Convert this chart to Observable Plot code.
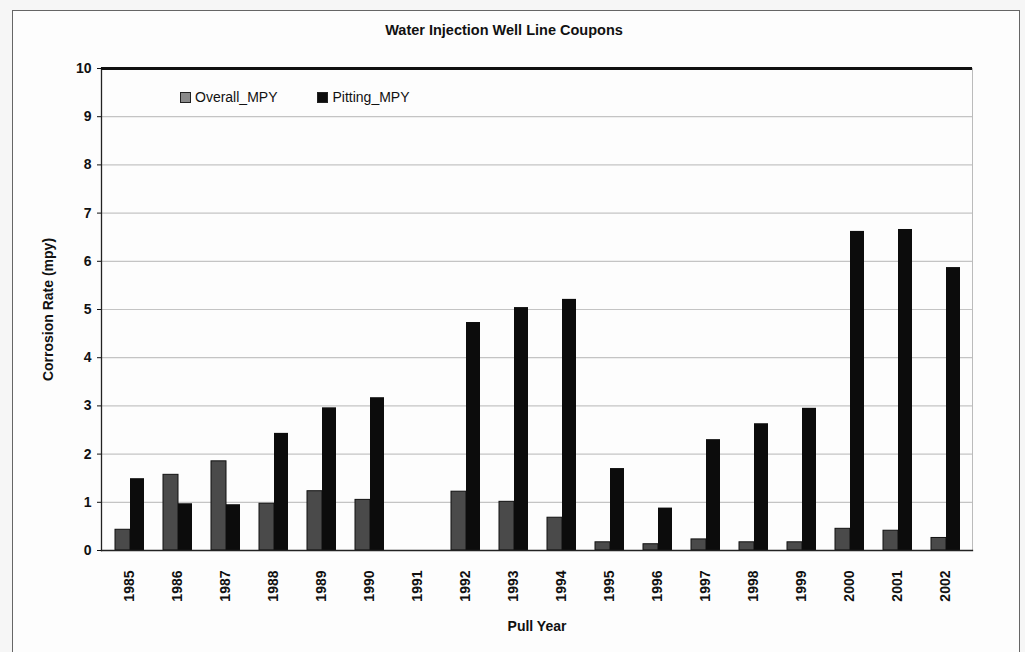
<!DOCTYPE html>
<html>
<head>
<meta charset="utf-8">
<script src="https://cdn.jsdelivr.net/npm/d3@7"></script>
<script src="https://cdn.jsdelivr.net/npm/@observablehq/plot@0.6"></script>
<style>
  html, body { margin: 0; padding: 0; background: #f6f6f6; }
  #wrap { position: relative; width: 1025px; height: 652px; overflow: hidden; font-family: "Liberation Sans", Arial, sans-serif; }
  #frame { position: absolute; left: 12px; top: 10px; width: 1006px; height: 660px; border: 1.5px solid #666; background: #fdfdfd; }
  #title { position: absolute; left: 0; top: 22px; width: 1008px; text-align: center; font-weight: bold; font-size: 14.5px; color: #111; }
  #chart { position: absolute; left: 0; top: 50px; }
  #legend { position: absolute; left: 180px; top: 89px; font-size: 14px; color: #111; display: flex; gap: 40px; }
  #legend span.item { display: inline-flex; align-items: center; gap: 4px; }
  #legend i { display: inline-block; width: 9px; height: 9px; }
</style>
</head>
<body>
<div id="wrap">
  <div id="frame"></div>
  <div id="title">Water Injection Well Line Coupons</div>
  <div id="chart"></div>
  <div id="legend"></div>
</div>
<script>
const years = ["1985","1986","1987","1988","1989","1990","1991","1992","1993","1994","1995","1996","1997","1998","1999","2000","2001","2002"];
const overallMPY = [0.43, 1.57, 1.85, 0.97, 1.23, 1.05, null, 1.22, 1.01, 0.68, 0.17, 0.13, 0.23, 0.17, 0.17, 0.45, 0.41, 0.26];
const pittingMPY = [1.49, 0.97, 0.95, 2.43, 2.96, 3.17, null, 4.73, 5.04, 5.21, 1.70, 0.88, 2.30, 2.63, 2.95, 6.62, 6.66, 5.87];
const seriesNames = ["Overall_MPY", "Pitting_MPY"];
const seriesColors = ["#4a4a4a", "#0c0c0c"];
const yTicks = [0,1,2,3,4,5,6,7,8,9,10];

const overallData = years.map((y, i) => ({year: y, value: overallMPY[i]})).filter(d => d.value != null);
const pittingData = years.map((y, i) => ({year: y, value: pittingMPY[i]})).filter(d => d.value != null);

const font = "'Liberation Sans', Arial, sans-serif";

const chart = Plot.plot({
  width: 1025,
  height: 602,
  marginTop: 18,
  marginBottom: 102,
  marginLeft: 101,
  marginRight: 53,
  style: {fontFamily: font, fontSize: "14px", fontWeight: "bold", background: "transparent", color: "#111"},
  x: {domain: years, padding: 0},
  y: {domain: [0, 10]},
  marks: [
    Plot.ruleY(yTicks.filter(t => t > 0 && t < 10), {stroke: "#c4c4c4", strokeWidth: 1.2}),
    Plot.barY(overallData, {x: "year", y: "value", fill: seriesColors[0], stroke: "#111", strokeWidth: 1, insetLeft: 10, insetRight: 23}),
    Plot.barY(pittingData, {x: "year", y: "value", fill: seriesColors[1], insetLeft: 25, insetRight: 9}),
    Plot.frame({anchor: "right", stroke: "#bbb"}),
    Plot.frame({anchor: "left", stroke: "#222", strokeWidth: 1.3}),
    Plot.frame({anchor: "bottom", stroke: "#222", strokeWidth: 1.3}),
    Plot.ruleY([10], {stroke: "#111", strokeWidth: 3}),
    Plot.axisY({ticks: yTicks, tickSize: 4, tickPadding: 6, label: "Corrosion Rate (mpy)", labelAnchor: "center", labelArrow: "none", labelOffset: 58, fontSize: 14, fontWeight: "bold"}),
    Plot.axisX({tickSize: 0, tickRotate: -90, tickPadding: 20, label: "Pull Year", labelAnchor: "center", labelArrow: "none", labelOffset: 80, fontSize: 14, fontWeight: "bold"})
  ]
});
document.getElementById("chart").appendChild(chart);

const legend = document.getElementById("legend");
seriesNames.forEach((name, i) => {
  const item = document.createElement("span");
  item.className = "item";
  const sw = document.createElement("i");
  sw.style.background = i === 0 ? "#8a8a8a" : seriesColors[i];
  sw.style.border = "1.5px solid #222";
  item.appendChild(sw);
  item.appendChild(document.createTextNode(name));
  legend.appendChild(item);
});
</script>
</body>
</html>
